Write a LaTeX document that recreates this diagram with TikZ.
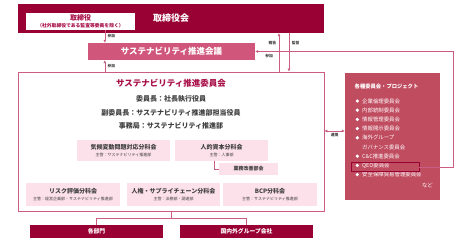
\documentclass[tikz,border=0pt]{standalone}
\usepackage{fontspec}
\setmainfont{Noto Sans CJK JP}
\usepackage{xcolor}
\usepackage{tikz}
\usetikzlibrary{positioning,arrows.meta,calc}
\definecolor{crim}{RGB}{153,0,51}
\definecolor{rosebox}{RGB}{209,86,124}
\definecolor{listred}{RGB}{192,76,96}
\definecolor{subpink}{RGB}{252,224,234}
\definecolor{linepink}{RGB}{203,92,132}
\definecolor{titlered}{RGB}{168,16,72}
\definecolor{txtgray}{RGB}{64,64,64}
\newcommand{\fs}[2]{\fontsize{#1}{#2}\selectfont}

\begin{document}
\begin{tikzpicture}[x=1pt,y=-1pt,inner sep=0pt,
 box/.style={fill=#1,align=center}, box/.default=subpink,
 sub/.style={box=subpink,minimum width=93,minimum height=21,text=txtgray,font=\fs{6}{7.5}\bfseries},
 dark/.style={box=crim,minimum width=133,minimum height=13,text=white,font=\fs{5.8}{7}\bfseries},
 role/.style={text=txtgray,font=\fs{7}{8}\bfseries},
 item/.style={anchor=west,text=white,font=\fs{5.4}{6}},
 ln/.style={draw=linepink,line width=0.6pt},
 arr/.style={ln,-{Latex[length=3pt,width=3pt]}},
 lbl/.style={font=\fs{3.8}{4}\bfseries,text=txtgray,inner sep=1.5pt}]
\useasboundingbox (0,0) rectangle (458,241);
% board and meeting
\node[box=crim,minimum width=306,minimum height=29,text=white,font=\fs{9}{10}\bfseries] (board) at (171,18.5) {取締役会};
\node[box=white,minimum width=109,minimum height=17,text=titlered,font=\fs{7}{7.5}\bfseries] (dir) at (80.5,21.5) {取締役\\{\fs{4.8}{5}（社外取締役である監査等委員を除く）}};
\node[box=rosebox,minimum width=167,minimum height=17,text=white,font=\fs{8.5}{10}\bfseries] (meet) at (171.5,51.5) {サステナビリティ推進会議};
% committee
\node[draw=linepink,line width=0.9pt,minimum width=306,minimum height=139] (comm) at (171,141.5) {};
\node[text=titlered,font=\fs{8.5}{10}\bfseries] (commtitle) at (171,83) {サステナビリティ推進委員会};
\node[role] (chair) at (171,99) {委員長：社長執行役員};
\node[role] (vice) at (171,113) {副委員長：サステナビリティ推進部担当役員};
\node[role] (office) at (171,126) {事務局：サステナビリティ推進部};
\node[sub] (climate) at (123.5,150.5) {気候変動問題対応分科会\\{\fs{4}{5}\mdseries 主管：サステナビリティ推進部}};
\node[sub] (human) at (221.5,150.5) {人的資本分科会\\{\fs{4}{5}\mdseries 主管：人事部}};
\node[box,minimum width=59,minimum height=12,text=txtgray,font=\fs{5}{6}\bfseries] (biz) at (248.5,169) {業務改善部会};
\node[sub,minimum width=94,minimum height=23] (risk) at (73,194.5) {リスク評価分科会\\{\fs{4}{5}\mdseries 主管：経営企画部・サステナビリティ推進部}};
\node[sub,minimum height=23] (rights) at (173.5,194.5) {人権・サプライチェーン分科会\\{\fs{4}{5}\mdseries 主管：法務部・調達部}};
\node[sub,minimum width=94,minimum height=23] (bcp) at (270,194.5) {BCP分科会\\{\fs{4}{5}\mdseries 主管：サステナビリティ推進部}};
\node[dark] (dept) at (96.5,231.5) {各部門};
\node[dark] (group) at (246.5,231.5) {国内外グループ会社};
% committees and projects
\node[box=listred,minimum width=95,minimum height=127] (list) at (392.5,136.5) {};
\node[anchor=west,text=white,font=\fs{5.3}{6}\bfseries] (listtitle) at (354.5,86) {各種委員会・プロジェクト};
\foreach \y/\t [count=\i] in {101/企業倫理委員会,110.2/内部統制委員会,119.4/情報管理委員会,128.6/情報開示委員会,137.8/海外グループ,156.2/C\&C推進委員会,165.4/QEO委員会,174.6/安全保障貿易管理委員会} {
  \node[circle,fill=white,minimum size=3.6pt] (dot\i) at (357.3,\y) {};
  \node[item] (item\i) at (362,\y) {\t};
}
\node[item] (gov) at (362,147) {ガバナンス委員会};
\node[item,anchor=east] (etc) at (433,185.5) {など};
\node[draw=crim,line width=0.9pt,minimum width=68,minimum height=9.5] (qeo) at (385,166.8) {};
% connectors
\draw[arr] ([xshift=17pt]meet.north west |- dir.south) -- ([xshift=17pt]meet.north west) node[lbl,midway,right,xshift=1pt]{参加};
\draw[arr] ([xshift=17pt]meet.south west |- comm.north) -- ([xshift=17pt]meet.south west) node[lbl,midway,right,xshift=1pt]{参加};
\draw[arr] ([xshift=108pt]board.south |- comm.north) -- ([xshift=108pt]board.south) node[lbl,pos=0.75,left,xshift=-1pt]{報告};
\draw[arr] ([xshift=118pt]board.south) -- ([xshift=118pt]board.south |- comm.north) node[lbl,pos=0.25,right,xshift=1pt]{監督};
\draw[arr] (qeo.east) -- ++(34,0) |- (meet.east) node[lbl,pos=0.965,below,yshift=-0.5pt]{参加};
\draw[ln,{Latex[length=3pt,width=3pt]}-{Latex[length=3pt,width=3pt]}] ([yshift=10.5pt]comm.east) -- ([yshift=10.5pt]comm.east -| list.west) node[lbl,midway,below]{連携};
\draw[ln] ([xshift=-7.5pt]human.south) |- (biz.west);
\foreach \b in {dept,group} \draw[ln] (comm.south) -- ++(0,7) -| (\b.north);
\end{tikzpicture}
\end{document}
